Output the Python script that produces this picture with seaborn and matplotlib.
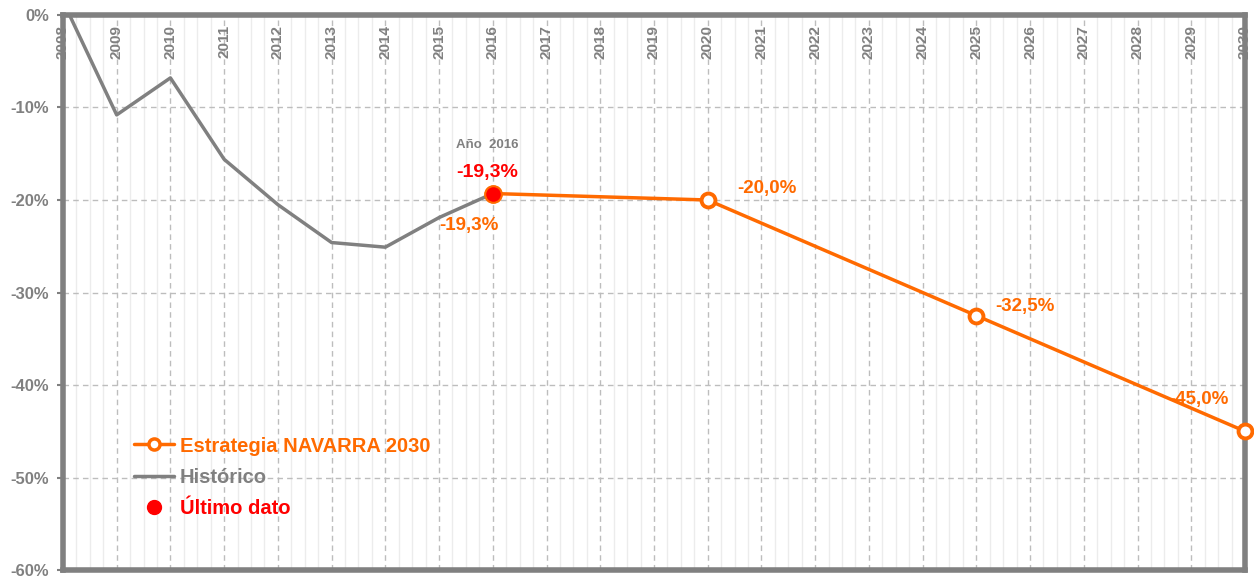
import matplotlib
matplotlib.use("Agg")
import matplotlib.pyplot as plt
import seaborn as sns
import pandas as pd
import numpy as np
from matplotlib.lines import Line2D
from matplotlib.ticker import MultipleLocator

sns.set_theme(style="white")
plt.rcParams['font.family'] = ['Liberation Sans', 'DejaVu Sans']

hist_years = [2008, 2009, 2010, 2011, 2012, 2013, 2014, 2015, 2016]
hist_values = [1.5, -10.8, -6.8, -15.6, -20.5, -24.6, -25.1, -21.9, -19.3]
goal_years = [2016, 2020, 2025, 2030]
goal_values = [-19.3, -20.0, -32.5, -45.0]
goal_labels = ["-19,3%", "-20,0%", "-32,5%", "-45,0%"]
last_year = 2016
last_value = -19.3
last_label = "-19,3%"
year_ticks = list(range(2008, 2031))
y_ticks = [0, -10, -20, -30, -40, -50, -60]
y_tick_labels = ["0%", "-10%", "-20%", "-30%", "-40%", "-50%", "-60%"]

ORANGE = "#FF6A00"
GRAY = "#808080"
RED = "#FF0000"

hist_df = pd.DataFrame({"year": hist_years, "value": hist_values})
goal_df = pd.DataFrame({"year": goal_years, "value": goal_values})

fig = plt.figure(figsize=(12.54, 5.81), dpi=100)
ax = fig.add_axes([0.0502, 0.0189, 0.9426, 0.9553])
ax.set_xlim(2008, 2030)
ax.set_ylim(-60, 0)

# grid
ax.xaxis.set_minor_locator(MultipleLocator(0.25))
ax.grid(which="minor", axis="x", color="#ececec", linewidth=1.0, linestyle="-")
ax.set_xticks(year_ticks)
ax.set_yticks(y_ticks)
ax.grid(which="major", axis="both", color="#bdbdbd", linewidth=1.0, linestyle=(0, (4, 3)))
ax.set_axisbelow(True)

sns.lineplot(data=hist_df, x="year", y="value", ax=ax, color=GRAY, linewidth=2.5,
             legend=False, zorder=3)
sns.lineplot(data=goal_df, x="year", y="value", ax=ax, color=ORANGE, linewidth=2.5,
             marker="o", markersize=10, markerfacecolor="white",
             markeredgecolor=ORANGE, markeredgewidth=2.8, legend=False, zorder=4, clip_on=False)
ax.plot([last_year], [last_value], marker="o", markersize=12, color=RED,
        markeredgecolor=ORANGE, markeredgewidth=1.5, zorder=6, linestyle="none")

for s in ax.spines.values():
    s.set_color(GRAY)
    s.set_linewidth(4)

ax.set_xticklabels([])
ax.tick_params(axis="x", length=0)
ax.set_yticklabels(y_tick_labels, fontsize=12, fontweight="bold", color=GRAY)
ax.tick_params(axis="y", length=4, color=GRAY, width=1.5, pad=6, left=True)
ax.set_xlabel("")
ax.set_ylabel("")

for yr in year_ticks:
    ax.text(yr, -1.1, str(yr), rotation=90, ha="center", va="top", fontsize=11,
            fontweight="bold", color=GRAY, zorder=2)

# annotations
ax.text(last_year - 0.1, -14.1, "Año  2016", fontsize=9.5, fontweight="bold", color=GRAY,
        ha="center", va="center")
ax.text(last_year - 0.1, -17.0, last_label, fontsize=14, fontweight="bold", color=RED,
        ha="center", va="center")
label_offsets = [(-0.45, -3.5), (0.55, 1.2), (0.35, 1.0), (-0.85, 3.4)]
for (yr, v, lab), (dx, dy) in zip(zip(goal_years, goal_values, goal_labels), label_offsets):
    ax.text(yr + dx, v + dy, lab, fontsize=13.5, fontweight="bold", color=ORANGE,
            ha="left" if dx > 0 else "center", va="center")

handles = [
    Line2D([], [], color=ORANGE, linewidth=2.5, marker="o", markersize=8,
           markerfacecolor="white", markeredgecolor=ORANGE, markeredgewidth=2.5),
    Line2D([], [], color=GRAY, linewidth=2.5),
    Line2D([], [], color=RED, marker="o", markersize=10, linestyle="none"),
]
leg = ax.legend(handles, ["Estrategia NAVARRA 2030", "Histórico", "Último dato"],
                loc="upper left", bbox_to_anchor=(0.053, 0.255), frameon=False,
                prop={"size": 14.5, "weight": "bold"}, handlelength=2.0,
                handletextpad=0.3, labelspacing=0.6, borderaxespad=0)
for t, c in zip(leg.get_texts(), [ORANGE, GRAY, RED]):
    t.set_color(c)

fig.savefig("out.png", dpi=100)
